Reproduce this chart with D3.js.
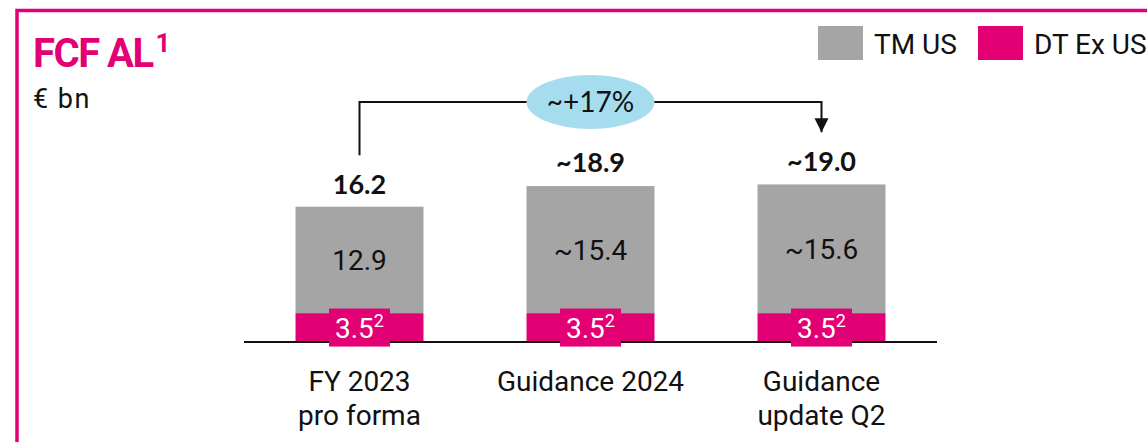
<!DOCTYPE html>
<html>
<head>
<meta charset="utf-8">
<script src="https://cdn.jsdelivr.net/npm/d3@7"></script>
<style>
  html, body { margin: 0; padding: 0; background: #fff; overflow: hidden; }
  svg { display: block; }
</style>
</head>
<body>
<svg id="chart" width="1147" height="442"></svg>
<script>
// ---- Data ----
const categories = ["FY 2023|pro forma", "Guidance 2024", "Guidance|update Q2"];
const tmUS = [12.9, 15.4, 15.6];
const dtExUS = [3.5, 3.5, 3.5];
const totals = [16.2, 18.9, 19.0];
const totalLabels = ["16.2", "~18.9", "~19.0"];
const tmLabels = ["12.9", "~15.4", "~15.6"];
const dtLabels = ["3.5", "3.5", "3.5"];
const dtFootnote = "2";
const seriesNames = ["TM US", "DT Ex US"];
const growthLabel = "~+17%";

// ---- Styles ----
const MAGENTA = "#E20074";
const GRAY = "#A5A5A5";
const BLUE = "#A6DDEE";
const FONT = "Roboto, 'Liberation Sans', sans-serif";
const NUMFONT = "Lato, 'Open Sans', sans-serif";

const svg = d3.select("#chart");

// frame
svg.append("rect")
  .attr("x", 17).attr("y", 10.5)
  .attr("width", 1200).attr("height", 500)
  .attr("fill", "none").attr("stroke", MAGENTA).attr("stroke-width", 3.5);

// title
const title = svg.append("text")
  .attr("x", 33).attr("y", 66.5)
  .attr("fill", MAGENTA)
  .attr("font-family", FONT).attr("font-weight", 700)
  .attr("font-size", 40).attr("letter-spacing", -1.5);
title.append("tspan").text("FCF AL");
title.append("tspan").attr("font-size", 26).attr("dy", -15).attr("dx", 3).text("1");

svg.append("text")
  .attr("x", 33).attr("y", 108)
  .attr("fill", "#111").attr("font-family", FONT).attr("font-size", 27)
  .attr("letter-spacing", 1.5)
  .text("€ bn");

// scales
const x = d3.scaleBand().domain(categories).range([244, 937])
  .paddingInner(0.446).paddingOuter(0.223);
const y = d3.scaleLinear().domain([0, 20]).range([342, 177]);

const g = svg.append("g");

// stacked bars
const stackData = categories.map((c, i) => ({ cat: c, dt: dtExUS[i], tm: tmUS[i] }));
const stack = d3.stack().keys(["dt", "tm"])(stackData);
const colors = { dt: MAGENTA, tm: GRAY };

stack.forEach(layer => {
  g.selectAll(null).data(layer).enter().append("rect")
    .attr("x", d => x(d.data.cat))
    .attr("width", x.bandwidth())
    .attr("y", d => y(d[1]))
    .attr("height", d => y(d[0]) - y(d[1]))
    .attr("fill", colors[layer.key]);
});

// axis baseline
const axis = d3.axisBottom(x).tickSize(0).tickFormat("");
const axG = svg.append("g").attr("transform", `translate(0,${y(0)})`).call(axis);
axG.select(".domain").attr("stroke", "#111").attr("stroke-width", 2).attr("d", `M${x.range()[0]},0H${x.range()[1]}`);

// TM labels (centered in gray segment)
categories.forEach((c, i) => {
  const cx = x(c) + x.bandwidth() / 2;
  const cy = (y(dtExUS[i]) + y(dtExUS[i] + tmUS[i])) / 2;
  svg.append("text")
    .attr("x", cx).attr("y", cy + 10)
    .attr("text-anchor", "middle")
    .attr("font-family", FONT).attr("font-size", 28).attr("fill", "#111")
    .text(tmLabels[i]);
});

// DT label boxes
categories.forEach((c, i) => {
  const cx = x(c) + x.bandwidth() / 2;
  const cy = (y(0) + y(dtExUS[i])) / 2;
  svg.append("rect")
    .attr("x", cx - 30.5).attr("y", cy - 19)
    .attr("width", 61).attr("height", 38)
    .attr("fill", MAGENTA);
  const t = svg.append("text")
    .attr("x", cx).attr("y", cy + 10)
    .attr("text-anchor", "middle")
    .attr("font-family", FONT).attr("font-size", 28).attr("fill", "#fff");
  t.append("tspan").text(dtLabels[i]);
  t.append("tspan").attr("font-size", 18).attr("dy", -11).text(dtFootnote);
});

// totals
categories.forEach((c, i) => {
  svg.append("text")
    .attr("x", x(c) + x.bandwidth() / 2).attr("y", y(totals[i]) - 14)
    .attr("text-anchor", "middle")
    .attr("font-family", NUMFONT).attr("font-weight", 700).attr("font-size", 27)
    .attr("fill", "#111")
    .text(totalLabels[i]);
});

// x labels
categories.forEach(c => {
  const lines = c.split("|");
  const t = svg.append("text")
    .attr("x", x(c) + x.bandwidth() / 2).attr("y", 391)
    .attr("text-anchor", "middle")
    .attr("font-family", FONT).attr("font-size", 28).attr("fill", "#111");
  lines.forEach((l, k) => {
    t.append("tspan").attr("x", x(c) + x.bandwidth() / 2).attr("dy", k === 0 ? 0 : 34).text(l);
  });
});

// growth connector
const x0 = x(categories[0]) + x.bandwidth() / 2;
const x2 = x(categories[2]) + x.bandwidth() / 2;
const xm = x(categories[1]) + x.bandwidth() / 2;
const lineY = 102;
svg.append("defs").append("marker")
  .attr("id", "arr").attr("viewBox", "0 0 10 10")
  .attr("refX", 10).attr("refY", 5)
  .attr("markerWidth", 7).attr("markerHeight", 7.5)
  .attr("markerUnits", "strokeWidth")
  .attr("orient", "auto")
  .append("path").attr("d", "M0,0L10,5L0,10Z").attr("fill", "#111");

svg.append("path")
  .attr("d", `M${x0},${y(totals[0]) - 53}V${lineY}H${x2}V${y(totals[2]) - 53}`)
  .attr("fill", "none").attr("stroke", "#111").attr("stroke-width", 2)
  .attr("marker-end", "url(#arr)");

svg.append("ellipse")
  .attr("cx", xm).attr("cy", lineY)
  .attr("rx", 64).attr("ry", 27)
  .attr("fill", BLUE);
svg.append("text")
  .attr("x", xm).attr("y", lineY + 10)
  .attr("text-anchor", "middle")
  .attr("font-family", NUMFONT).attr("font-size", 28).attr("fill", "#111")
  .text(growthLabel);

// legend
const legendX = [818, 978];
const legendColors = [GRAY, MAGENTA];
seriesNames.forEach((n, i) => {
  svg.append("rect")
    .attr("x", legendX[i]).attr("y", 26)
    .attr("width", 45).attr("height", 34)
    .attr("fill", legendColors[i]);
  svg.append("text")
    .attr("x", legendX[i] + 56).attr("y", 54)
    .attr("font-family", FONT).attr("font-size", 28).attr("fill", "#111")
    .text(n);
});
</script>
</body>
</html>
